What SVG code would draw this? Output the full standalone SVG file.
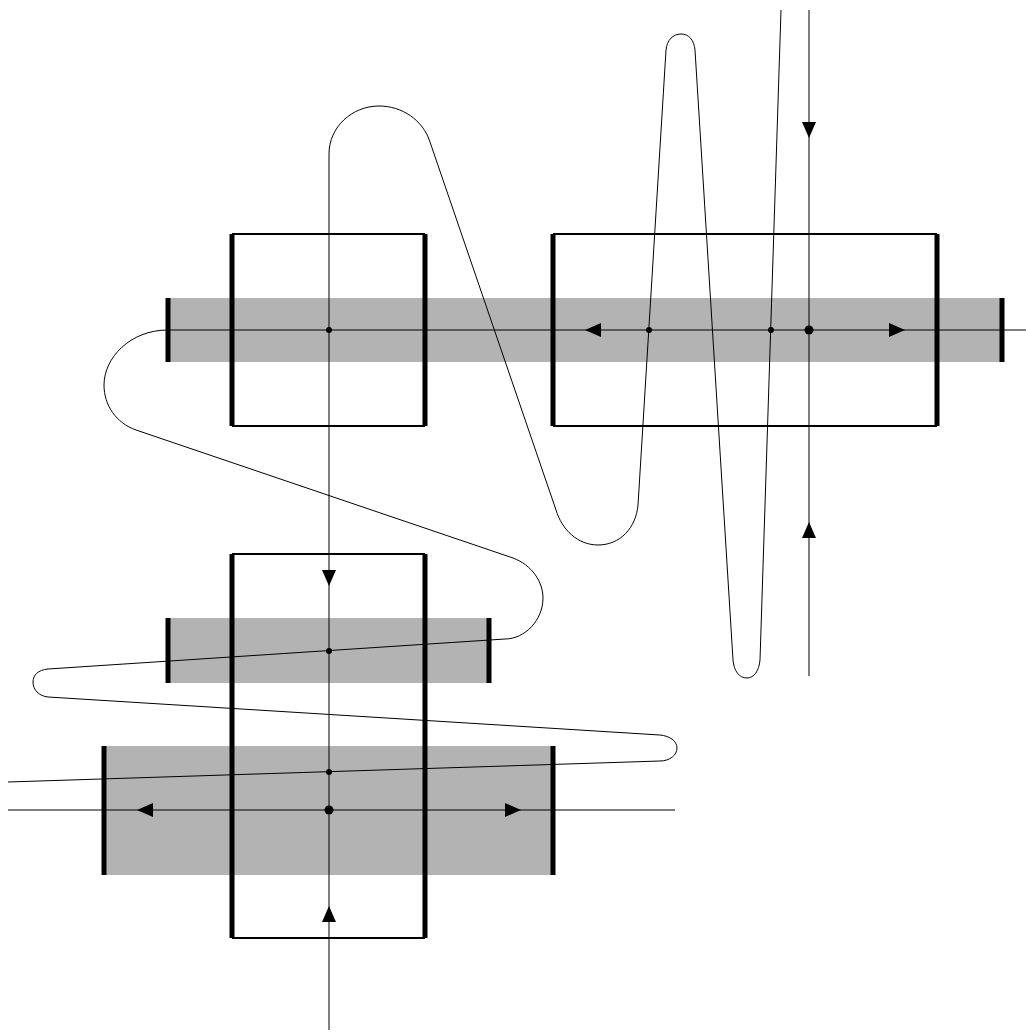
<svg xmlns="http://www.w3.org/2000/svg" width="1026" height="1032" viewBox="0 0 1026 1032">
<style>
.g{fill:#b3b3b3;stroke:none}
.b{fill:none;stroke:#000;stroke-width:2}
.t{fill:none;stroke:#000;stroke-width:5}
.l{fill:none;stroke:#000;stroke-width:1}
.a{fill:#000;stroke:none}
</style>
<rect width="1026" height="1032" fill="#fff"/>
<g id="bands">
<rect class="g" x="168" y="298" width="834" height="64"/>
<rect class="g" x="168" y="618" width="321" height="65"/>
<rect class="g" x="104" y="746" width="449" height="129"/>
</g>
<g id="boxes">
<path class="b" d="M232 234H425M232 426H425M553 234H937M553 426H937M232 554H425M232 938H425"/>
<path class="t" d="M232 234V426M425 234V426M553 234V426M937 234V426M232 554V938M425 554V938"/>
<path class="t" d="M168 298V362M1002 298V362M168 618V683M489 618V683M104 746V875M553 746V875"/>
</g>
<g id="connectors">
<path class="l" d="M1026 330H168C130 330 104 358 104 385C104 405 116 423 136 430L513 558C532 565 543 582 543 598C543 620 525 639 505 639L48 669C38 670 33 675 33 682C33 690 39 696 48 697L660 735C670 736 677 741 677 748C677 755 670 761 660 761L8 782"/>
<path class="l" d="M329 1030V154C329 127 352 106 379 106C402 106 423 120 430 142L556 510C562 530 578 545 598 545C620 545 636 528 638 505L666 50C667 40 673 34 681 34C689 34 694 40 695 50L733 660C734 671 739 678 747 678C754 678 759 671 760 660L781 10"/>
<path class="l" d="M809 10V676M8 810H675"/>
<path class="a" d="M809 138L802 122H816ZM809 522L802 538H816ZM585 330L601 323V337ZM905 330L889 323V337ZM329 586L322 570H336ZM329 906L322 922H336ZM137 810L153 803V817ZM521 810L505 803V817Z"/>
</g>
<g id="dots">
<circle class="a" cx="329" cy="330" r="3"/><circle class="a" cx="649" cy="330" r="3"/><circle class="a" cx="771" cy="330" r="3"/><circle class="a" cx="809" cy="330" r="4.5"/>
<circle class="a" cx="329" cy="651" r="3"/><circle class="a" cx="329" cy="772" r="3"/><circle class="a" cx="329" cy="810" r="4.5"/>
</g>
</svg>
